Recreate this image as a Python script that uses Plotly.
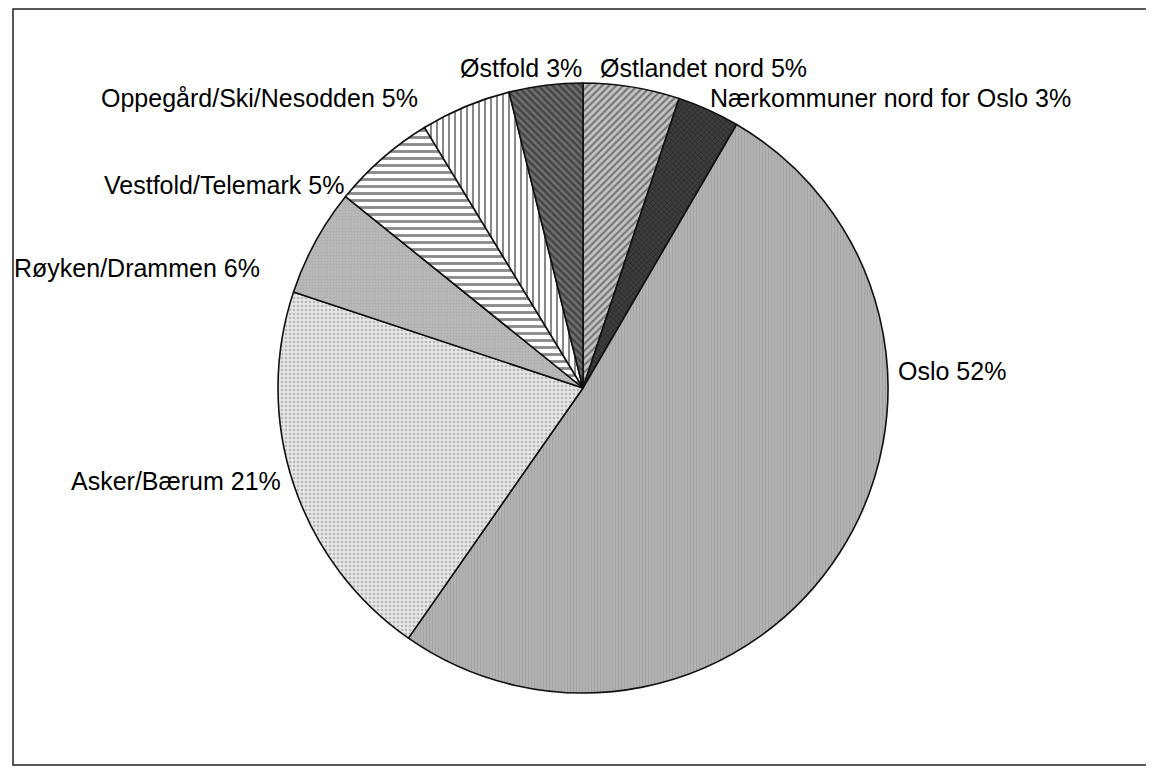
import plotly.graph_objects as go

W, H = 1154, 769
OFF = 8  # default page body margin shifts the figure by this many pixels

regions = ["Østlandet nord", "Nærkommuner nord for Oslo", "Oslo", "Asker/Bærum",
           "Røyken/Drammen", "Vestfold/Telemark", "Oppegård/Ski/Nesodden", "Østfold"]
shares = [5.1, 3.3, 51.3, 20.4, 5.7, 5.5, 4.8, 3.9]
label_pct = ["5%", "3%", "52%", "21%", "6%", "5%", "5%", "3%"]

bg_colors = ["#c4c4c4", "#3e3e3e", "#b3b3b3", "#e6e6e6", "#b8b8b8", "#ffffff", "#ffffff", "#707070"]
fg_colors = ["#2a2a2a", "#141414", "#8f8f8f", "#8a8a8a", "#9a9a9a", "#111111", "#111111", "#1a1a1a"]
shapes_p = ["/", "x", "|", ".", ".", "-", "|", "\\"]
sizes_p = [5, 4, 3, 4, 3, 7, 6, 5]
solid_p = [0.45, 0.35, 0.3, 0.35, 0.25, 0.4, 0.35, 0.5]

# label placement (pixel positions of text anchor in the reference)
lab_x = [598, 708, 896, 283, 262, 346, 420, 584]
lab_y = [68, 98, 371, 481, 268, 185, 98, 68]
lab_anchor = ["left", "left", "left", "right", "right", "right", "right", "right"]

cx, cy, r = 583 - OFF, 388 - OFF, 305


def px(x):
    return (x - OFF) / W


def py(y):
    return 1 - (y - OFF) / H


fig = go.Figure(go.Pie(
    labels=regions,
    values=shares,
    sort=False,
    direction="clockwise",
    rotation=0,
    textinfo="none",
    hoverinfo="label+percent",
    marker=dict(
        colors=bg_colors,
        line=dict(color="#111111", width=1.6),
        pattern=dict(shape=shapes_p, fgcolor=fg_colors, bgcolor=bg_colors,
                     size=sizes_p, solidity=solid_p, fillmode="overlay"),
    ),
    domain=dict(x=[(cx - r) / W, (cx + r) / W], y=[1 - (cy + r) / H, 1 - (cy - r) / H]),
    showlegend=False,
))

for name, pct, x, y, anc in zip(regions, label_pct, lab_x, lab_y, lab_anchor):
    fig.add_annotation(x=px(x), y=py(y), xref="paper", yref="paper",
                       text=f"{name} {pct}", showarrow=False,
                       xanchor=anc, yanchor="middle",
                       font=dict(family="Liberation Sans, Arial, sans-serif", size=25, color="#000000"))

fig.add_shape(type="rect", xref="paper", yref="paper",
              x0=px(13), x1=px(1149), y0=py(765), y1=py(9),
              line=dict(color="#222222", width=1.5), fillcolor="rgba(0,0,0,0)")

fig.update_layout(width=W, height=H, margin=dict(l=0, r=0, t=0, b=0),
                  paper_bgcolor="white", plot_bgcolor="white")

fig.write_html("out.html")
